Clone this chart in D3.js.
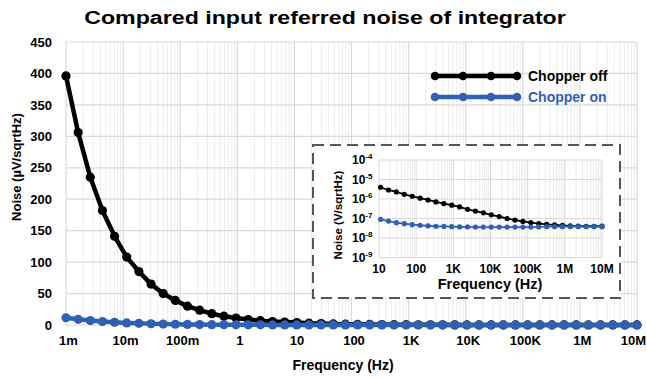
<!DOCTYPE html>
<html>
<head>
<meta charset="utf-8">
<script src="https://cdn.jsdelivr.net/npm/d3@7"></script>
<style>
  body { margin: 0; background: #fff; }
  svg { display: block; font-family: "Liberation Sans", Arial, sans-serif; font-weight: bold; }
</style>
</head>
<body>
<div id="chart"></div>
<script>
// frequency points (Hz), shared by the main chart and the inset
const freq = [0.001, 0.001632, 0.002664, 0.004348, 0.007097, 0.01158, 0.01891, 0.03086, 0.05037, 0.08222,
  0.1342, 0.219, 0.3575, 0.5834, 0.9522, 1.554, 2.536, 4.14, 6.757, 11.03,
  18.0, 29.38, 47.96, 78.28, 127.8, 208.5, 340.4, 555.6, 906.8, 1480,
  2416, 3943, 6435, 10503, 17140, 27980, 45660, 74530, 121650, 198600,
  324100, 529000, 863500, 1409000, 2300000, 3754000, 6127000, 10000000];

// noise in µV/sqrtHz
const chopperOff = [396, 306, 235, 182, 141, 108, 85, 65, 50, 39,
  30, 23.5, 18, 14, 11, 8.6, 6.8, 5.5, 4.6, 4.0,
  2.9, 2.3, 1.74, 1.38, 1.10, 0.89, 0.71, 0.58, 0.48, 0.39,
  0.295, 0.24, 0.195, 0.155, 0.125, 0.10, 0.083, 0.071, 0.062, 0.055,
  0.050, 0.047, 0.044, 0.042, 0.041, 0.040, 0.040, 0.041];
const chopperOn = [11.5, 9.0, 7.0, 5.4, 4.2, 3.3, 2.6, 2.0, 1.55, 1.2,
  0.95, 0.75, 0.58, 0.45, 0.35, 0.27, 0.21, 0.15, 0.12, 0.091,
  0.074, 0.061, 0.054, 0.048, 0.045, 0.042, 0.040, 0.039, 0.038, 0.037,
  0.037, 0.0365, 0.0365, 0.0365, 0.0365, 0.0365, 0.0365, 0.0365, 0.0365, 0.037,
  0.038, 0.038, 0.038, 0.038, 0.038, 0.038, 0.038, 0.038];

const seriesNames = ["Chopper off", "Chopper on"];

const xTickValues = [1e-3, 1e-2, 1e-1, 1, 10, 100, 1e3, 1e4, 1e5, 1e6, 1e7];
const xTickLabels = ["1m", "10m", "100m", "1", "10", "100", "1K", "10K", "100K", "1M", "10M"];
const yTicks = [0, 50, 100, 150, 200, 250, 300, 350, 400, 450];

const insetXTickValues = [10, 100, 1e3, 1e4, 1e5, 1e6, 1e7];
const insetXTickLabels = ["10", "100", "1K", "10K", "100K", "1M", "10M"];
const insetYExponents = [-9, -8, -7, -6, -5, -4];

const colors = ["#000000", "#3060b4"];
const gridColor = "#d9d9d9";
const minorGridColor = "#ececec";

const W = 647, H = 379;
const svg = d3.select("#chart").append("svg")
  .attr("width", W).attr("height", H);

// title (the original looks horizontally stretched)
svg.append("text")
  .attr("transform", "translate(325,24) scale(1.22,1)")
  .attr("text-anchor", "middle")
  .style("font-size", "19px")
  .text("Compared input referred noise of integrator");

// ---------- main chart ----------
const x = d3.scaleLog().domain([1e-3, 1e7]).range([66, 637]);
const y = d3.scaleLinear().domain([0, 450]).range([325, 42]);

const grid = svg.append("g");
// minor vertical gridlines
grid.selectAll(".minor")
  .data(x.ticks(40).filter(v => !xTickValues.includes(v)))
  .enter().append("line")
  .attr("x1", d => x(d)).attr("x2", d => x(d))
  .attr("y1", y(450)).attr("y2", y(0))
  .attr("stroke", minorGridColor).attr("stroke-width", 1);
grid.selectAll(".majorx")
  .data(xTickValues)
  .enter().append("line")
  .attr("x1", d => x(d)).attr("x2", d => x(d))
  .attr("y1", y(450)).attr("y2", y(0))
  .attr("stroke", gridColor).attr("stroke-width", 1.2);
grid.selectAll(".majory")
  .data(yTicks)
  .enter().append("line")
  .attr("x1", x(1e-3)).attr("x2", x(1e7))
  .attr("y1", d => y(d)).attr("y2", d => y(d))
  .attr("stroke", gridColor).attr("stroke-width", 1.2);

// axes labels
const yAxis = svg.append("g")
  .attr("transform", "translate(52,0)")
  .call(d3.axisLeft(y).tickValues(yTicks).tickSize(0).tickPadding(0));
yAxis.select(".domain").remove();
yAxis.selectAll("text")
  .attr("x", 0)
  .style("font-size", "13px")
  .style("font-family", "Liberation Sans, Arial, sans-serif")
  .style("font-weight", "bold");

const xAxis = svg.append("g")
  .attr("transform", "translate(2,336)")
  .call(d3.axisBottom(x).tickValues(xTickValues)
    .tickFormat((d, i) => xTickLabels[i]).tickSize(0).tickPadding(0));
xAxis.select(".domain").remove();
xAxis.selectAll("text")
  .style("font-size", "13px")
  .style("font-family", "Liberation Sans, Arial, sans-serif")
  .style("font-weight", "bold");
// keep the last label inside the window
xAxis.selectAll(".tick").filter(d => d === 1e7).select("text").attr("x", -6);

svg.append("text")
  .attr("x", 343).attr("y", 370)
  .attr("text-anchor", "middle")
  .style("font-size", "14px")
  .text("Frequency (Hz)");

svg.append("text")
  .attr("transform", "translate(21,167) rotate(-90)")
  .attr("text-anchor", "middle")
  .style("font-size", "13px")
  .text("Noise (µV/sqrtHz)");

const series = [chopperOff, chopperOn];
const line = d3.line().x((d, i) => x(freq[i])).y(d => y(d));

series.forEach((vals, s) => {
  svg.append("path")
    .datum(vals)
    .attr("d", line)
    .attr("fill", "none")
    .attr("stroke", colors[s])
    .attr("stroke-width", 4.5)
    .attr("stroke-linejoin", "round");
  svg.append("g").selectAll("circle")
    .data(vals)
    .enter().append("circle")
    .attr("cx", (d, i) => x(freq[i]))
    .attr("cy", d => y(d))
    .attr("r", 4.6)
    .attr("fill", colors[s]);
});

// legend
const legend = svg.append("g");
seriesNames.forEach((name, s) => {
  const ly = 76 + s * 21;
  legend.append("line")
    .attr("x1", 435).attr("x2", 517)
    .attr("y1", ly).attr("y2", ly)
    .attr("stroke", colors[s]).attr("stroke-width", 4.5);
  [435, 463, 491, 517].forEach(cx => {
    legend.append("circle").attr("cx", cx).attr("cy", ly).attr("r", 4.3).attr("fill", colors[s]);
  });
  legend.append("text")
    .attr("x", 528).attr("y", ly + 5)
    .style("font-size", "14px")
    .attr("fill", colors[s])
    .text(name);
});

// ---------- inset ----------
const inset = svg.append("g");
inset.append("rect")
  .attr("x", 313).attr("y", 145)
  .attr("width", 307).attr("height", 153)
  .attr("fill", "#fff")
  .attr("stroke", "#555")
  .attr("stroke-width", 2)
  .attr("stroke-dasharray", "11,6");

const xi = d3.scaleLog().domain([10, 1e7]).range([379, 602]);
const yi = d3.scaleLog().domain([1e-9, 1e-4]).range([257.5, 160]);

inset.selectAll(".iminor")
  .data(xi.ticks(30).filter(v => !insetXTickValues.includes(v)))
  .enter().append("line")
  .attr("x1", d => xi(d)).attr("x2", d => xi(d))
  .attr("y1", yi(1e-4)).attr("y2", yi(1e-9))
  .attr("stroke", minorGridColor).attr("stroke-width", 1);
inset.selectAll(".imajorx")
  .data(insetXTickValues)
  .enter().append("line")
  .attr("x1", d => xi(d)).attr("x2", d => xi(d))
  .attr("y1", yi(1e-4)).attr("y2", yi(1e-9))
  .attr("stroke", gridColor).attr("stroke-width", 1);
inset.selectAll(".imajory")
  .data(insetYExponents)
  .enter().append("line")
  .attr("x1", xi(10)).attr("x2", xi(1e7))
  .attr("y1", d => yi(Math.pow(10, d))).attr("y2", d => yi(Math.pow(10, d)))
  .attr("stroke", gridColor).attr("stroke-width", 1);

// inset y labels with superscript exponents
const iyl = inset.selectAll(".iylab")
  .data(insetYExponents)
  .enter().append("text")
  .attr("x", 352)
  .attr("y", d => yi(Math.pow(10, d)) + 4)
  .style("font-size", "12px");
iyl.append("tspan").text("10");
iyl.append("tspan").attr("dy", -5).style("font-size", "8px").text(d => "-" + Math.abs(d));

inset.selectAll(".ixlab")
  .data(insetXTickValues)
  .enter().append("text")
  .attr("x", d => xi(d))
  .attr("y", 273)
  .attr("text-anchor", "middle")
  .style("font-size", "12px")
  .text((d, i) => insetXTickLabels[i]);

inset.append("text")
  .attr("x", 490).attr("y", 289)
  .attr("text-anchor", "middle")
  .style("font-size", "14.5px")
  .text("Frequency (Hz)");

inset.append("text")
  .attr("transform", "translate(342,215) rotate(-90)")
  .attr("text-anchor", "middle")
  .style("font-size", "11.5px")
  .text("Noise (V/sqrtHz)");

const insetIdx = freq.map((f, i) => i).filter(i => freq[i] >= 10);

series.forEach((vals, s) => {
  inset.append("path")
    .datum(insetIdx)
    .attr("d", d3.line().x(i => xi(freq[i])).y(i => yi(vals[i] * 1e-6)))
    .attr("fill", "none")
    .attr("stroke", colors[s])
    .attr("stroke-width", 1.8);
  inset.append("g").selectAll("circle")
    .data(insetIdx)
    .enter().append("circle")
    .attr("cx", i => xi(freq[i]))
    .attr("cy", i => yi(vals[i] * 1e-6))
    .attr("r", 2.6)
    .attr("fill", colors[s]);
});
</script>
</body>
</html>
